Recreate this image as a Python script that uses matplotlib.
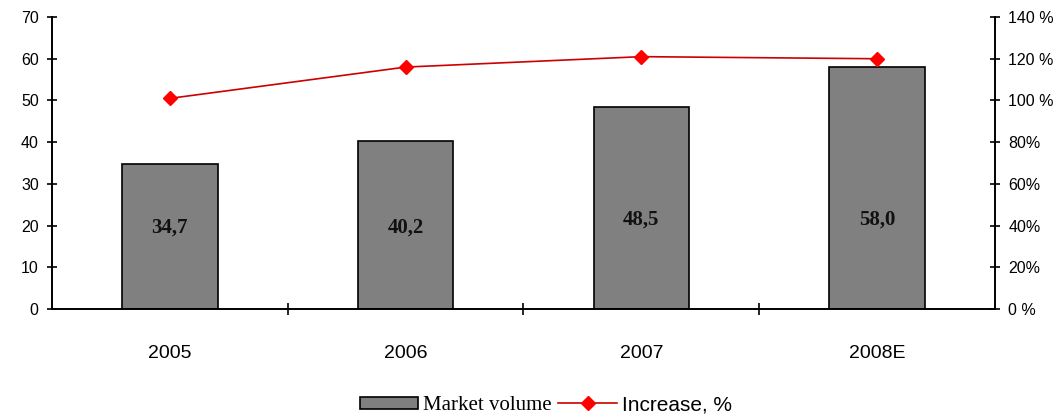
import matplotlib
matplotlib.use('Agg')
import matplotlib.pyplot as plt
import numpy as np

# chart data
years = ['2005', '2006', '2007', '2008E']
market_volume = [34.7, 40.2, 48.5, 58.0]
volume_labels = ['34,7', '40,2', '48,5', '58,0']
increase_pct = [101, 116, 121, 120]

plt.rcParams['font.family'] = ['Liberation Sans', 'DejaVu Sans']

fig = plt.figure(figsize=(10.6, 4.2), dpi=100)
ax = fig.add_axes([0.049, 0.264, 0.8897, 0.6955])
x = np.arange(len(years))

ax.bar(x, market_volume, width=0.405, color='#808080', edgecolor='black', linewidth=1.2,
       label='Market volume', zorder=2)
for xi, v, lab in zip(x, market_volume, volume_labels):
    ax.text(xi, 19.5 if v < 45 else 21.5, lab, ha='center', va='center',
            fontsize=15, fontweight='bold', family='Liberation Serif', color='#111111', zorder=3)

ax.set_xlim(-0.5, 3.5)
ax.set_ylim(0, 70)
ax.set_yticks(range(0, 71, 10))
ax.tick_params(axis='y', direction='inout', length=7, width=1.2, labelsize=11.5, pad=6)

# separators between categories, labels centred under bars
ax.set_xticks([0.5, 1.5, 2.5])
ax.set_xticklabels([])
ax.set_xticks(x, minor=True)
ax.set_xticklabels(years, minor=True, fontsize=14)
ax.tick_params(axis='x', which='major', direction='inout', length=8, width=1.2)
ax.tick_params(axis='x', which='minor', length=0, pad=26)

for s in ['top', 'right']:
    ax.spines[s].set_visible(False)
ax.spines['left'].set_linewidth(1.4)
ax.spines['bottom'].set_linewidth(1.4)

ax2 = ax.twinx()
ax2.plot(x, increase_pct, color='#cc0000', linewidth=1.2, marker='D', markersize=7,
         markerfacecolor='red', markeredgecolor='red', label='Increase, %', zorder=4)
ax2.set_ylim(0, 140)
ax2.set_yticks(range(0, 141, 20))
ax2.set_yticklabels([f'{v} %' if v in (0, 100, 120, 140) else f'{v}%' for v in range(0, 141, 20)])
ax2.tick_params(axis='y', direction='inout', length=7, width=1.2, labelsize=11.5, pad=6)
for s in ['top', 'left', 'bottom']:
    ax2.spines[s].set_visible(False)
ax2.spines['right'].set_linewidth(1.4)

h1, l1 = ax.get_legend_handles_labels()
h2, l2 = ax2.get_legend_handles_labels()
leg = fig.legend(h1 + h2, l1 + l2, loc='center', bbox_to_anchor=(0.515, 0.035), ncol=2,
                 frameon=False, fontsize=15, handlelength=2.8, handleheight=0.55,
                 columnspacing=0.3, handletextpad=0.25)
leg.get_texts()[0].set_family('Liberation Serif')

fig.savefig('out.png', dpi=100)
